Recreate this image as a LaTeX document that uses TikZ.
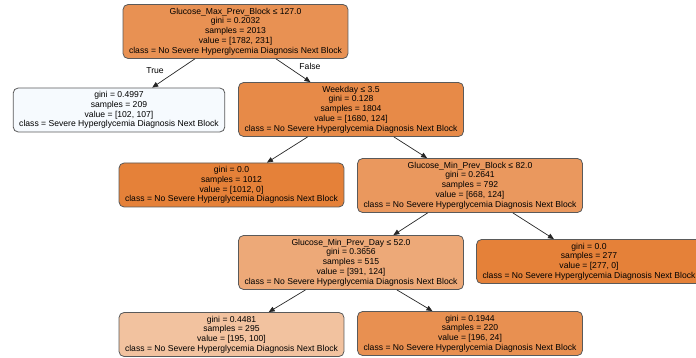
\documentclass[tikz,border=0pt]{standalone}
\usepackage{fontspec}
\setmainfont{Liberation Sans}
\usetikzlibrary{arrows.meta}
\definecolor{cRoot}{HTML}{E89153}
\definecolor{cLeafL}{HTML}{F6FAFE}
\definecolor{cWeek}{HTML}{E78A48}
\definecolor{cPure}{HTML}{E58139}
\definecolor{cMinBlock}{HTML}{EA985E}
\definecolor{cMinDay}{HTML}{EDA978}
\definecolor{cL295}{HTML}{F2C29F}
\definecolor{cL220}{HTML}{E89051}
\definecolor{cBorder}{HTML}{5A5A5A}
\tikzset{
  treebox/.style={draw=cBorder, line width=0.8pt, rounded corners=5pt,
    align=center, inner xsep=6pt, inner ysep=0pt,
    font=\fontsize{8.6}{9.8}\selectfont},
  five/.style={treebox, minimum height=54pt},
  four/.style={treebox, minimum height=44pt},
  edge/.style={draw=black!85, line width=0.7pt, -{Triangle[length=6pt,width=5pt]}},
  elabel/.style={font=\fontsize{8.6}{10}\selectfont, inner sep=0pt}
}
\begin{document}
\begin{tikzpicture}[x=1pt,y=-1pt]
\useasboundingbox (0,0) rectangle (696,358);
\clip (0,0) rectangle (696,358);
\node[five, fill=cRoot] (root) at (235.5,31.5) {Glucose\_Max\_Prev\_Block ≤ 127.0\\gini = 0.2032\\samples = 2013\\value = [1782, 231]\\class = No Severe Hyperglycemia Diagnosis Next Block};
\node[four, fill=cLeafL] (leafL) at (119,110) {gini = 0.4997\\samples = 209\\value = [102, 107]\\class = Severe Hyperglycemia Diagnosis Next Block};
\node[five, fill=cWeek] (week) at (351,109.5) {Weekday ≤ 3.5\\gini = 0.128\\samples = 1804\\value = [1680, 124]\\class = No Severe Hyperglycemia Diagnosis Next Block};
\node[four, fill=cPure] (l1012) at (231.5,185) {gini = 0.0\\samples = 1012\\value = [1012, 0]\\class = No Severe Hyperglycemia Diagnosis Next Block};
\node[five, fill=cMinBlock] (minblock) at (470,185.5) {Glucose\_Min\_Prev\_Block ≤ 82.0\\gini = 0.2641\\samples = 792\\value = [668, 124]\\class = No Severe Hyperglycemia Diagnosis Next Block};
\node[five, fill=cMinDay] (minday) at (351,262.5) {Glucose\_Min\_Prev\_Day ≤ 52.0\\gini = 0.3656\\samples = 515\\value = [391, 124]\\class = No Severe Hyperglycemia Diagnosis Next Block};
\node[four, fill=cPure] (l277) at (589,261.5) {gini = 0.0\\samples = 277\\value = [277, 0]\\class = No Severe Hyperglycemia Diagnosis Next Block};
\node[four, fill=cL295] (l295) at (231.5,334.5) {gini = 0.4481\\samples = 295\\value = [195, 100]\\class = No Severe Hyperglycemia Diagnosis Next Block};
\node[four, fill=cL220] (l220) at (470,333.5) {gini = 0.1944\\samples = 220\\value = [196, 24]\\class = No Severe Hyperglycemia Diagnosis Next Block};
\draw[edge] (root) -- (leafL);
\draw[edge] (root) -- (week);
\draw[edge] (week) -- (l1012);
\draw[edge] (week) -- (minblock);
\draw[edge] (minblock) -- (minday);
\draw[edge] (minblock) -- (l277);
\draw[edge] (minday) -- (l295);
\draw[edge] (minday) -- (l220);
\node[elabel] (tTrue) at (155,71) {True};
\node[elabel] (tFalse) at (310,66) {False};
\end{tikzpicture}
\end{document}
